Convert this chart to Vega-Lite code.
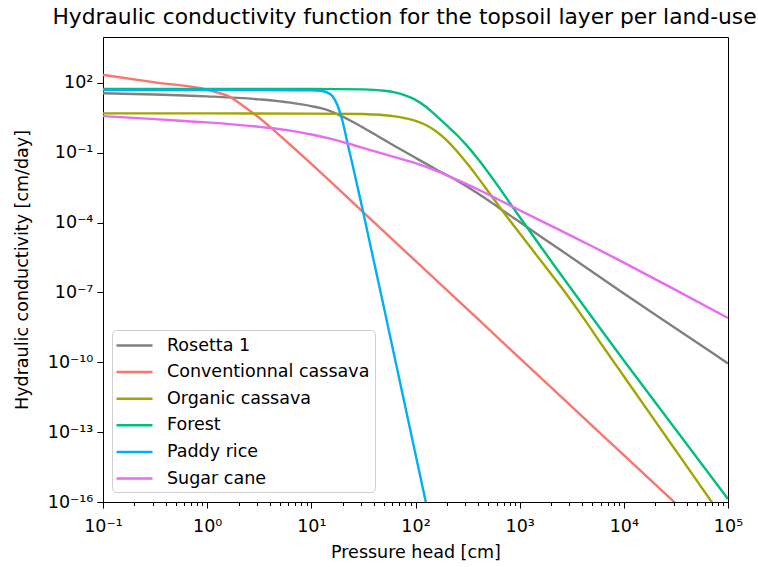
{
  "$schema": "https://vega.github.io/schema/vega-lite/v6.json",
  "width": 625,
  "height": 465,
  "autosize": {"type": "none"},
  "padding": {"left": 103, "top": 37, "right": 30, "bottom": 65},
  "background": "white",
  "config": {"view": {"stroke": "black", "strokeWidth": 1}, "font": "DejaVu Sans"},
  "title": {"text": "Hydraulic conductivity function for the topsoil layer per land-use", "fontSize": 21.8, "font": "DejaVu Sans", "fontWeight": "normal", "anchor": "middle", "offset": 8, "dx": -11, "color": "black"},
  "data": {"values": [
    {"s": "Rosetta 1", "h": 0.1, "k": 35.48},
    {"s": "Rosetta 1", "h": 0.3162, "k": 31.62},
    {"s": "Rosetta 1", "h": 1, "k": 26.30},
    {"s": "Rosetta 1", "h": 3.162, "k": 19.50},
    {"s": "Rosetta 1", "h": 6.31, "k": 14.13},
    {"s": "Rosetta 1", "h": 10, "k": 10},
    {"s": "Rosetta 1", "h": 12.59, "k": 7.943},
    {"s": "Rosetta 1", "h": 15.85, "k": 5.623},
    {"s": "Rosetta 1", "h": 19.95, "k": 3.548},
    {"s": "Rosetta 1", "h": 25.12, "k": 2.089},
    {"s": "Rosetta 1", "h": 31.62, "k": 1.175},
    {"s": "Rosetta 1", "h": 39.81, "k": 0.6457},
    {"s": "Rosetta 1", "h": 50.12, "k": 0.3548},
    {"s": "Rosetta 1", "h": 63.1, "k": 0.1950},
    {"s": "Rosetta 1", "h": 100, "k": 0.06026},
    {"s": "Rosetta 1", "h": 158.5, "k": 0.01905},
    {"s": "Rosetta 1", "h": 251.2, "k": 0.00631},
    {"s": "Rosetta 1", "h": 398.1, "k": 0.001778},
    {"s": "Rosetta 1", "h": 631, "k": 4.365e-4},
    {"s": "Rosetta 1", "h": 1000, "k": 1.047e-4},
    {"s": "Rosetta 1", "h": 2512, "k": 6.31e-6},
    {"s": "Rosetta 1", "h": 10000, "k": 8.913e-8},
    {"s": "Rosetta 1", "h": 31623, "k": 2.818e-9},
    {"s": "Rosetta 1", "h": 100000, "k": 8.913e-11},
    {"s": "Conventionnal cassava", "h": 0.1, "k": 218.8},
    {"s": "Conventionnal cassava", "h": 0.3162, "k": 104.7},
    {"s": "Conventionnal cassava", "h": 1, "k": 51.29},
    {"s": "Conventionnal cassava", "h": 1.259, "k": 38.02},
    {"s": "Conventionnal cassava", "h": 1.585, "k": 27.54},
    {"s": "Conventionnal cassava", "h": 1.995, "k": 14.45},
    {"s": "Conventionnal cassava", "h": 2.512, "k": 6.761},
    {"s": "Conventionnal cassava", "h": 3.162, "k": 3.162},
    {"s": "Conventionnal cassava", "h": 3.981, "k": 1.318},
    {"s": "Conventionnal cassava", "h": 6.31, "k": 0.2138},
    {"s": "Conventionnal cassava", "h": 10, "k": 0.03311},
    {"s": "Conventionnal cassava", "h": 31.62, "k": 2.754e-4},
    {"s": "Conventionnal cassava", "h": 100, "k": 2.239e-6},
    {"s": "Conventionnal cassava", "h": 316.2, "k": 1.862e-8},
    {"s": "Conventionnal cassava", "h": 1000, "k": 1.514e-10},
    {"s": "Conventionnal cassava", "h": 3162, "k": 1.259e-12},
    {"s": "Conventionnal cassava", "h": 10000, "k": 1.023e-14},
    {"s": "Conventionnal cassava", "h": 31623, "k": 8.511e-17},
    {"s": "Conventionnal cassava", "h": 100000, "k": 7.079e-19},
    {"s": "Organic cassava", "h": 0.1, "k": 4.898},
    {"s": "Organic cassava", "h": 1, "k": 4.898},
    {"s": "Organic cassava", "h": 10, "k": 4.786},
    {"s": "Organic cassava", "h": 31.62, "k": 4.571},
    {"s": "Organic cassava", "h": 39.81, "k": 4.365},
    {"s": "Organic cassava", "h": 50.12, "k": 4.074},
    {"s": "Organic cassava", "h": 63.1, "k": 3.631},
    {"s": "Organic cassava", "h": 79.43, "k": 3.020},
    {"s": "Organic cassava", "h": 100, "k": 2.344},
    {"s": "Organic cassava", "h": 125.9, "k": 1.549},
    {"s": "Organic cassava", "h": 158.5, "k": 0.8128},
    {"s": "Organic cassava", "h": 199.5, "k": 0.3388},
    {"s": "Organic cassava", "h": 251.2, "k": 0.1122},
    {"s": "Organic cassava", "h": 316.2, "k": 0.03236},
    {"s": "Organic cassava", "h": 398.1, "k": 0.008511},
    {"s": "Organic cassava", "h": 501.2, "k": 0.002089},
    {"s": "Organic cassava", "h": 631, "k": 5.129e-4},
    {"s": "Organic cassava", "h": 794.3, "k": 1.318e-4},
    {"s": "Organic cassava", "h": 1000, "k": 3.467e-5},
    {"s": "Organic cassava", "h": 1585, "k": 2.399e-6},
    {"s": "Organic cassava", "h": 2512, "k": 1.660e-7},
    {"s": "Organic cassava", "h": 3981, "k": 9.550e-9},
    {"s": "Organic cassava", "h": 6310, "k": 4.786e-10},
    {"s": "Organic cassava", "h": 10000, "k": 2.512e-11},
    {"s": "Organic cassava", "h": 31623, "k": 1.585e-14},
    {"s": "Organic cassava", "h": 100000, "k": 1e-17},
    {"s": "Forest", "h": 0.1, "k": 54.95},
    {"s": "Forest", "h": 1, "k": 54.95},
    {"s": "Forest", "h": 10, "k": 54.95},
    {"s": "Forest", "h": 31.62, "k": 52.48},
    {"s": "Forest", "h": 39.81, "k": 50.12},
    {"s": "Forest", "h": 50.12, "k": 45.71},
    {"s": "Forest", "h": 63.1, "k": 38.90},
    {"s": "Forest", "h": 79.43, "k": 28.84},
    {"s": "Forest", "h": 100, "k": 18.62},
    {"s": "Forest", "h": 125.9, "k": 9.333},
    {"s": "Forest", "h": 158.5, "k": 3.802},
    {"s": "Forest", "h": 199.5, "k": 1.479},
    {"s": "Forest", "h": 251.2, "k": 0.5623},
    {"s": "Forest", "h": 316.2, "k": 0.1862},
    {"s": "Forest", "h": 398.1, "k": 0.05370},
    {"s": "Forest", "h": 501.2, "k": 0.01380},
    {"s": "Forest", "h": 631, "k": 0.003311},
    {"s": "Forest", "h": 794.3, "k": 7.586e-4},
    {"s": "Forest", "h": 1000, "k": 1.738e-4},
    {"s": "Forest", "h": 1585, "k": 9.550e-6},
    {"s": "Forest", "h": 2512, "k": 5.495e-7},
    {"s": "Forest", "h": 3981, "k": 3.236e-8},
    {"s": "Forest", "h": 6310, "k": 1.950e-9},
    {"s": "Forest", "h": 10000, "k": 1.202e-10},
    {"s": "Forest", "h": 31623, "k": 1.259e-13},
    {"s": "Forest", "h": 100000, "k": 1.349e-16},
    {"s": "Paddy rice", "h": 0.1, "k": 48.98},
    {"s": "Paddy rice", "h": 1, "k": 48.98},
    {"s": "Paddy rice", "h": 3.162, "k": 48.98},
    {"s": "Paddy rice", "h": 10, "k": 47.86},
    {"s": "Paddy rice", "h": 12.59, "k": 44.67},
    {"s": "Paddy rice", "h": 14.13, "k": 38.90},
    {"s": "Paddy rice", "h": 15.85, "k": 28.18},
    {"s": "Paddy rice", "h": 17.78, "k": 11.22},
    {"s": "Paddy rice", "h": 19.95, "k": 2.239},
    {"s": "Paddy rice", "h": 22.39, "k": 0.2239},
    {"s": "Paddy rice", "h": 25.12, "k": 0.02512},
    {"s": "Paddy rice", "h": 31.62, "k": 2.512e-4},
    {"s": "Paddy rice", "h": 56.23, "k": 1.778e-9},
    {"s": "Paddy rice", "h": 100, "k": 1.122e-14},
    {"s": "Paddy rice", "h": 158.5, "k": 7.943e-19},
    {"s": "Sugar cane", "h": 0.1, "k": 3.715},
    {"s": "Sugar cane", "h": 0.3162, "k": 2.754},
    {"s": "Sugar cane", "h": 1, "k": 1.995},
    {"s": "Sugar cane", "h": 3.162, "k": 1.288},
    {"s": "Sugar cane", "h": 6.31, "k": 0.8913},
    {"s": "Sugar cane", "h": 10, "k": 0.6026},
    {"s": "Sugar cane", "h": 15.85, "k": 0.3802},
    {"s": "Sugar cane", "h": 25.12, "k": 0.2138},
    {"s": "Sugar cane", "h": 39.81, "k": 0.1175},
    {"s": "Sugar cane", "h": 63.1, "k": 0.06457},
    {"s": "Sugar cane", "h": 100, "k": 0.03548},
    {"s": "Sugar cane", "h": 158.5, "k": 0.0166},
    {"s": "Sugar cane", "h": 251.2, "k": 0.006761},
    {"s": "Sugar cane", "h": 398.1, "k": 0.00263},
    {"s": "Sugar cane", "h": 631, "k": 9.55e-4},
    {"s": "Sugar cane", "h": 1000, "k": 3.388e-4},
    {"s": "Sugar cane", "h": 2512, "k": 4.365e-5},
    {"s": "Sugar cane", "h": 5012, "k": 9.333e-6},
    {"s": "Sugar cane", "h": 10000, "k": 1.905e-6},
    {"s": "Sugar cane", "h": 31623, "k": 1.259e-7},
    {"s": "Sugar cane", "h": 100000, "k": 7.943e-9}
  ]},
  "mark": {"type": "line", "strokeWidth": 2.4, "interpolate": "monotone", "clip": true},
  "encoding": {
    "x": {
      "field": "h", "type": "quantitative",
      "scale": {"type": "log", "domain": [0.1, 100000], "nice": false},
      "axis": {
        "values": [0.1,0.2,0.3,0.4,0.5,0.6,0.7,0.8,0.9,1,2,3,4,5,6,7,8,9,10,20,30,40,50,60,70,80,90,100,200,300,400,500,600,700,800,900,1000,2000,3000,4000,5000,6000,7000,8000,9000,10000,20000,30000,40000,50000,60000,70000,80000,90000,100000],
        "labelExpr": "abs(log(datum.value)/LN10 - round(log(datum.value)/LN10)) > 0.01 ? '' : split('10⁻¹,10⁰,10¹,10²,10³,10⁴,10⁵', ',')[round(log(datum.value)/LN10) + 1]",
        "tickSize": {"condition": {"test": "abs(log(datum.value)/LN10 - round(log(datum.value)/LN10)) > 0.01", "value": 3.5}, "value": 6.1},
        "grid": false, "labelOverlap": false, "labelFlush": false,
        "labelFontSize": 17.5, "labelColor": "black", "labelFont": "DejaVu Sans", "labelPadding": 9,
        "tickColor": "black", "domainColor": "black",
        "title": "Pressure head [cm]", "titleFontSize": 17.5, "titleFontWeight": "normal", "titleColor": "black", "titleFont": "DejaVu Sans", "titlePadding": 9
      }
    },
    "y": {
      "field": "k", "type": "quantitative",
      "scale": {"type": "log", "domain": [1e-16, 9300], "nice": false},
      "axis": {
        "values": [1e-16, 1e-13, 1e-10, 1e-7, 1e-4, 0.1, 100],
        "labelExpr": "split('10⁻¹⁶,10⁻¹³,10⁻¹⁰,10⁻⁷,10⁻⁴,10⁻¹,10²', ',')[round((log(datum.value)/LN10 + 16)/3)]",
        "tickSize": 6.1, "grid": false, "labelOverlap": false, "labelFlush": false,
        "labelFontSize": 17.5, "labelColor": "black", "labelFont": "DejaVu Sans", "labelPadding": 4,
        "tickColor": "black", "domainColor": "black",
        "title": "Hydraulic conductivity [cm/day]", "titleFontSize": 17.5, "titleFontWeight": "normal", "titleColor": "black", "titleFont": "DejaVu Sans", "titlePadding": 16
      }
    },
    "color": {
      "field": "s", "type": "nominal",
      "scale": {"domain": ["Rosetta 1", "Conventionnal cassava", "Organic cassava", "Forest", "Paddy rice", "Sugar cane"], "range": ["#808080", "#F8766D", "#A3A500", "#00BF7D", "#00B0F6", "#E76BF3"]},
      "legend": {
        "title": null, "orient": "none", "legendX": 9, "legendY": 293,
        "symbolType": "M-2,0H2", "symbolSize": 324, "symbolStrokeWidth": 2.5,
        "labelFontSize": 17.5, "labelFont": "DejaVu Sans", "labelColor": "black", "labelLimit": 400,
        "rowPadding": 7.6, "symbolOffset": 7, "labelOffset": 22, "padding": 5,
        "strokeColor": "#d0d0d0", "fillColor": "rgba(255,255,255,0.8)", "cornerRadius": 4
      }
    }
  }
}
